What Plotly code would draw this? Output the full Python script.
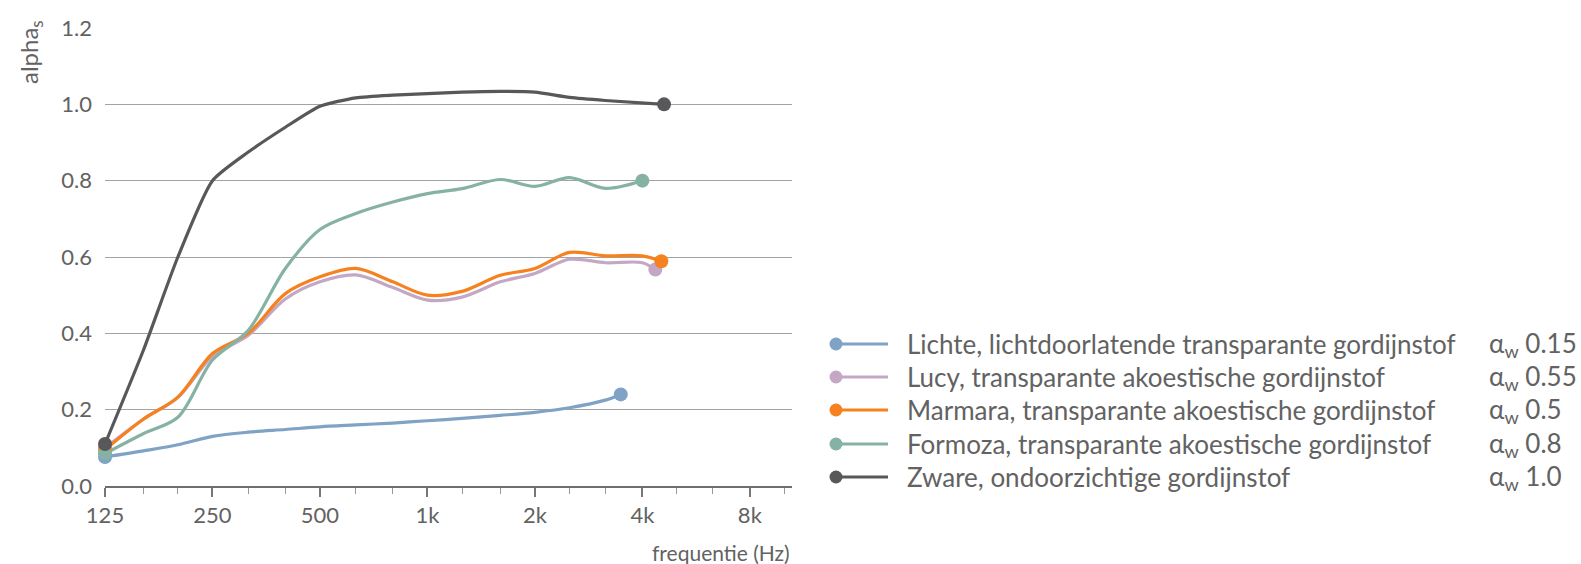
import math
import plotly.graph_objects as go

# ---------------- data ----------------
names = [
    "Lichte, lichtdoorlatende transparante gordijnstof",
    "Lucy, transparante akoestische gordijnstof",
    "Marmara, transparante akoestische gordijnstof",
    "Formoza, transparante akoestische gordijnstof",
    "Zware, ondoorzichtige gordijnstof",
]
alpha_w = ["0.15", "0.55", "0.5", "0.8", "1.0"]
colors = ["#7fa2c5", "#c3a7c5", "#f5821f", "#85b2a5", "#58585a"]

lichte_f = [125, 160, 200, 250, 315, 400, 500, 630, 800, 1000, 1250, 1600, 2000, 2500, 3150, 3480]
lichte_v = [0.076, 0.092, 0.108, 0.130, 0.141, 0.148, 0.155, 0.160, 0.165, 0.171, 0.177, 0.185, 0.193, 0.205, 0.225, 0.24]

lucy_f = [125, 160, 200, 250, 315, 400, 500, 630, 800, 1000, 1250, 1600, 2000, 2500, 3150, 4000, 4350]
lucy_v = [0.10, 0.175, 0.232, 0.34, 0.395, 0.49, 0.535, 0.553, 0.52, 0.487, 0.495, 0.535, 0.557, 0.594, 0.585, 0.585, 0.567]

marmara_f = [125, 160, 200, 250, 315, 400, 500, 630, 800, 1000, 1250, 1600, 2000, 2500, 3150, 4000, 4520]
marmara_v = [0.095, 0.175, 0.233, 0.347, 0.40, 0.504, 0.548, 0.57, 0.535, 0.50, 0.51, 0.552, 0.57, 0.612, 0.603, 0.603, 0.589]

formoza_f = [125, 160, 200, 250, 315, 400, 500, 630, 800, 1000, 1250, 1600, 2000, 2500, 3150, 4000]
formoza_v = [0.085, 0.137, 0.18, 0.33, 0.408, 0.57, 0.672, 0.714, 0.744, 0.766, 0.779, 0.803, 0.785, 0.808, 0.78, 0.80]

zware_f = [125, 160, 200, 250, 315, 400, 500, 630, 800, 1000, 1250, 1600, 2000, 2500, 3150, 4600]
zware_v = [0.11, 0.355, 0.60, 0.80, 0.875, 0.94, 0.995, 1.017, 1.024, 1.028, 1.032, 1.034, 1.032, 1.018, 1.01, 1.0]

series_f = [lichte_f, lucy_f, marmara_f, formoza_f, zware_f]
series_v = [lichte_v, lucy_v, marmara_v, formoza_v, zware_v]

major_vals = [125, 250, 500, 1000, 2000, 4000, 8000]
major_text = ["125", "250", "500", "1k", "2k", "4k", "8k"]
minor_vals = [160, 200, 315, 400, 630, 800, 1250, 1600, 2500, 3150, 5000, 6300, 10000]

# ---------------- layout constants ----------------
W, H = 1581, 564
L, R, T, B = 105, 789, 28, 78
PW, PH = W - L - R, H - T - B
FONT = "Lato"
WGT = 400
TXT = "#626262"

def px_x(px):
    return (px - L) / PW

def px_y(py):
    return (H - B - py) / PH

fig = go.Figure()

for i in range(5):
    fig.add_trace(go.Scatter(
        x=series_f[i], y=series_v[i], mode="lines",
        line=dict(color=colors[i], width=3.2, shape="spline",
                  smoothing=0.6 if i == 4 else 0.9),
        showlegend=False, hoverinfo="skip", cliponaxis=False,
    ))
for i in range(5):
    fig.add_trace(go.Scatter(
        x=[series_f[i][0], series_f[i][-1]], y=[series_v[i][0], series_v[i][-1]],
        mode="markers", marker=dict(color=colors[i], size=14),
        showlegend=False, hoverinfo="skip", cliponaxis=False,
    ))

# custom legend
rows_y = [344, 377, 410, 444, 477]
shapes = []
annotations = []
for i in range(5):
    yy = px_y(rows_y[i])
    shapes.append(dict(type="line", xref="paper", yref="paper",
                       x0=px_x(836), x1=px_x(888), y0=yy, y1=yy,
                       line=dict(color=colors[i], width=3.2)))
    shapes.append(dict(type="circle", xref="paper", yref="paper",
                       x0=px_x(829.5), x1=px_x(842.5), y0=px_y(rows_y[i] + 6.5), y1=px_y(rows_y[i] - 6.5),
                       fillcolor=colors[i], line=dict(width=0)))
    annotations.append(dict(xref="paper", yref="paper", x=px_x(905), y=yy,
                            xanchor="left", yanchor="middle", showarrow=False,
                            text=names[i], font=dict(family=FONT, size=26, color=TXT, weight=WGT)))
    annotations.append(dict(xref="paper", yref="paper", x=px_x(1487), y=yy,
                            xanchor="left", yanchor="middle", showarrow=False,
                            text="α<sub>w</sub> " + alpha_w[i],
                            font=dict(family=FONT, size=26, color=TXT, weight=WGT)))

annotations.append(dict(xref="paper", yref="paper", x=px_x(30), y=px_y(52),
                        xanchor="center", yanchor="middle", showarrow=False, textangle=-90,
                        text="alpha<sub>s</sub>", font=dict(family=FONT, size=24, color=TXT, weight=WGT)))
annotations.append(dict(xref="paper", yref="paper", x=1.0, y=px_y(552),
                        xanchor="right", yanchor="middle", showarrow=False,
                        text="frequentie (Hz)", font=dict(family=FONT, size=21, color=TXT, weight=WGT)))

fig.update_layout(
    width=W, height=H,
    margin=dict(l=L, r=R, t=T, b=B, pad=0),
    paper_bgcolor="white", plot_bgcolor="white",
    font=dict(family=FONT, size=22, color=TXT, weight=WGT),
    showlegend=False,
    shapes=shapes, annotations=annotations,
    xaxis=dict(
        type="log", range=[math.log10(125), math.log10(10500)],
        tickmode="array", tickvals=major_vals, ticktext=major_text,
        ticks="outside", ticklen=9, tickwidth=1.5, tickcolor="#777777",
        minor=dict(tickmode="array", tickvals=minor_vals, ticks="outside", ticklen=6,
                   tickwidth=1, tickcolor="#999999", showgrid=False),
        showline=True, linecolor="#6f6f6f", linewidth=2,
        showgrid=False, zeroline=False, fixedrange=True,
        tickfont=dict(family=FONT, size=22, color=TXT, weight=WGT),
    ),
    yaxis=dict(
        range=[0, 1.2], tickmode="array", tickvals=[0, 0.2, 0.4, 0.6, 0.8, 1.0, 1.2],
        tickformat=".1f", showgrid=True, gridcolor="#a3a3a3", gridwidth=1,
        zeroline=False, showline=False, ticks="", ticklabelstandoff=12,
        tickfont=dict(family=FONT, size=22, color=TXT, weight=WGT), fixedrange=True,
    ),
)

fig.write_html("out.html", config={"displayModeBar": False},
               post_script="document.body.style.margin='0px';")
